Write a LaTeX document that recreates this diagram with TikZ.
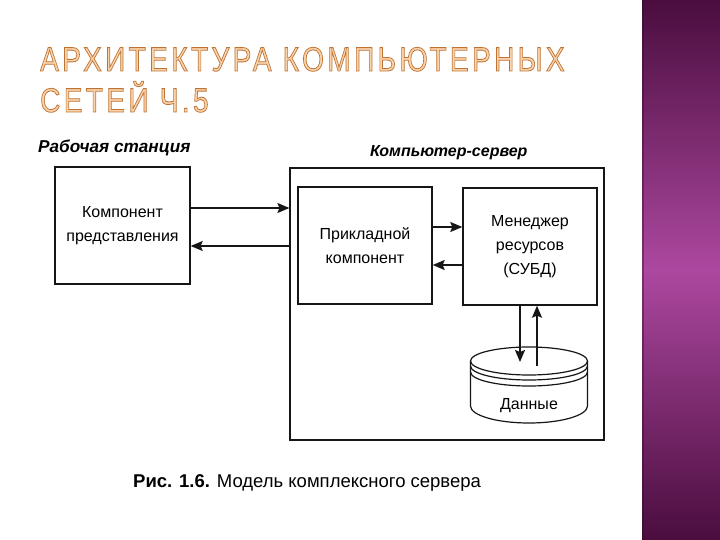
\documentclass[tikz,border=0pt]{standalone}
\usepackage{fontspec}
\usepackage{graphicx}
\setmainfont{Liberation Sans}
\usetikzlibrary{arrows.meta}
\definecolor{pdark}{HTML}{4A0D3E}
\definecolor{pmid}{HTML}{AC489F}
\definecolor{tfill}{HTML}{F9D3AC}
\definecolor{ink}{HTML}{161616}
\tikzset{
  box/.style={draw=ink, line width=1.4pt, minimum width=134pt, minimum height=117pt, inner sep=0pt, align=center, font=\fontsize{16}{24}\selectfont},
  arr/.style={draw=ink, line width=1.4pt, -{Stealth[length=12pt,width=10pt,inset=2pt]}},
  hdr/.style={font=\fontsize{16}{18}\selectfont\bfseries\itshape, anchor=base west, inner sep=0pt},
  ttl/.style={font=\fontsize{34}{36}\selectfont, anchor=base west, inner sep=0pt, text=tfill},
}
\newcommand{\ttltext}[1]{\scalebox{0.825}[1]{\addfontfeature{LetterSpace=12}\special{pdf:literal direct 2 Tr 0.8 w 0.75 0.45 0.2 RG}#1\special{pdf:literal direct 0 Tr}}}
\begin{document}
\begin{tikzpicture}[x=1pt,y=-1pt]
\useasboundingbox (0,0) rectangle (720,540);
\fill[white] (0,0) rectangle (720,540);
% title (outlined letters)
\node[ttl] (t1) at (40,71) {\ttltext{АРХИТЕКТУРА КОМПЬЮТЕРНЫХ}};
\node[ttl] (t2) at (40,112) {\ttltext{СЕТЕЙ Ч.5}};
% purple side panel
\shade[top color=pdark, bottom color=pdark, middle color=pmid] (642,0) rectangle (720,540);
\fill[pdark!70!black, opacity=0.4] (642,0) rectangle (644,540);
% headers
\node[hdr, font=\fontsize{17.2}{18}\selectfont\bfseries\itshape] (hws) at (38,153) {Рабочая станция};
\node[hdr] (hsrv) at (370,157) {Компьютер-сервер};
% boxes
\node[box, minimum width=135pt] (ws) at (122.5,225.5) {Компонент\\представления};
\node[box, minimum width=314pt, minimum height=272pt, line width=1.2pt] (srv) at (447,304) {};
\node[box] (app) at (365,245.5) {Прикладной\\компонент};
\node[box] (mgr) at (530,246.5) {Менеджер\\ресурсов\\(СУБД)};
% arrows
\draw[arr] (ws.east |- 0,208) -- (srv.west |- 0,208);
\draw[arr] (srv.west |- 0,246) -- (ws.east |- 0,246);
\draw[arr] (app.east |- 0,227) -- (mgr.west |- 0,227);
\draw[arr] (mgr.west |- 0,265) -- (app.east |- 0,265);
% database cylinder
\begin{scope}[draw=ink, line width=1.2pt]
\fill[white] (470.5,361) -- (470.5,406) arc[start angle=180, end angle=360, x radius=58.5pt, y radius=17pt] -- (587.5,361) arc[start angle=0, end angle=180, x radius=58.5pt, y radius=14pt] -- cycle;
\draw (470.5,361) -- (470.5,406) arc[start angle=180, end angle=360, x radius=58.5pt, y radius=17pt] -- (587.5,361);
\draw (529,361) ellipse[x radius=58.5pt, y radius=14pt];
\draw (470.5,366) arc[start angle=180, end angle=360, x radius=58.5pt, y radius=14pt];
\draw (470.5,372) arc[start angle=180, end angle=360, x radius=58.5pt, y radius=14pt];
\end{scope}
\coordinate (dbtopA) at (520,362);
\coordinate (dbtopB) at (537,366);
\node[font=\fontsize{16}{18}\selectfont, inner sep=0pt] (db) at (529,406) {Данные};
\draw[arr] (mgr.south -| dbtopA) -- (dbtopA);
\draw[arr] (dbtopB) -- (mgr.south -| dbtopB);
% caption
\node[font=\fontsize{18.5}{20}\selectfont, anchor=base west, inner sep=0pt] (cap) at (133,487) {\textbf{Рис. 1.6.} Модель комплексного сервера};
\end{tikzpicture}
\end{document}
